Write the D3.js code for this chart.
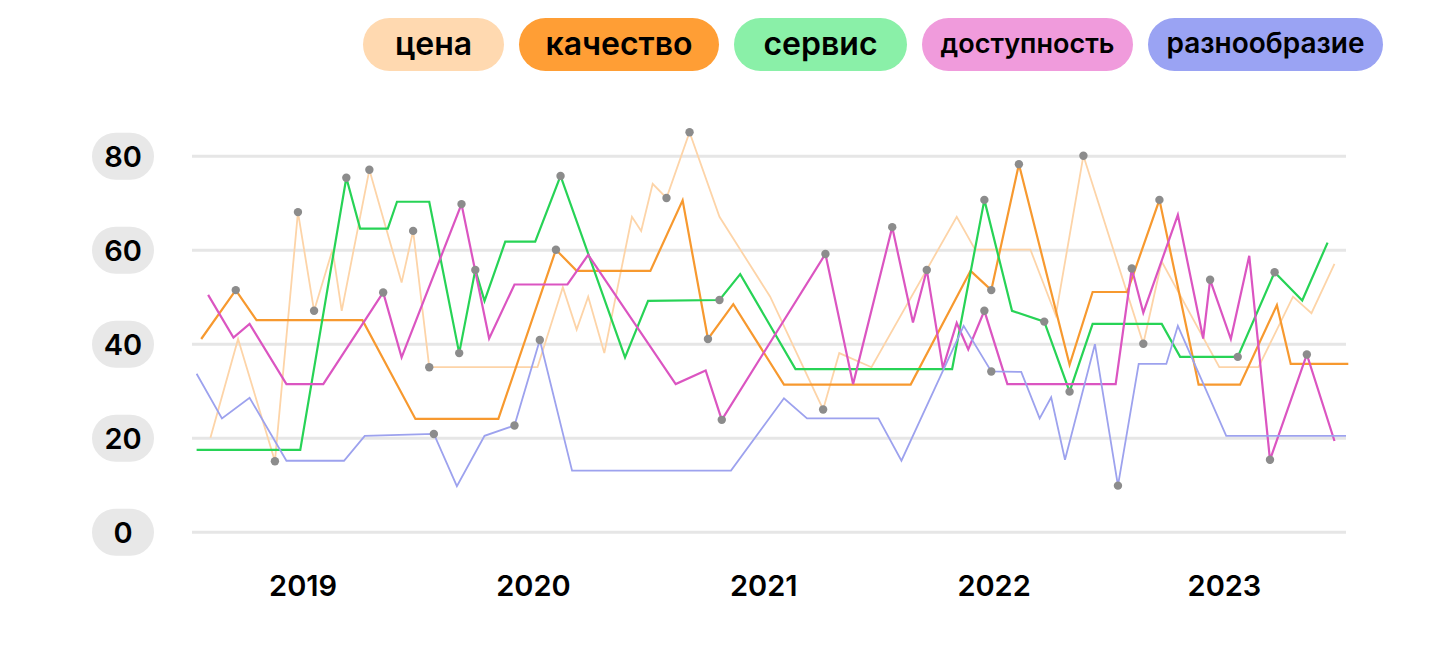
<!DOCTYPE html>
<html>
<head>
<meta charset="utf-8">
<script src="https://cdn.jsdelivr.net/npm/d3@7"></script>
<style>
  html, body { margin: 0; padding: 0; background: #fff; }
  svg { display: block; font-family: Inter, "Noto Sans", sans-serif; }
</style>
</head>
<body>
<div id="chart"></div>
<script>
// series names as in legend
const seriesNames = ['цена', 'качество', 'сервис', 'доступность', 'разнообразие'];
const years = [2019, 2020, 2021, 2022, 2023];
const yTicks = [0, 20, 40, 60, 80];

// [decimal year, value, marked]
const cena = [
  [2018.60, 20], [2018.72, 41], [2018.88, 15, 1], [2018.98, 68, 1], [2019.05, 47, 1],
  [2019.13, 60], [2019.17, 47], [2019.29, 77, 1], [2019.43, 53], [2019.48, 64, 1],
  [2019.55, 35, 1], [2020.02, 35], [2020.13, 52], [2020.19, 43], [2020.24, 50],
  [2020.31, 38], [2020.43, 67], [2020.47, 64], [2020.52, 74], [2020.58, 71, 1],
  [2020.68, 85, 1], [2020.81, 67], [2021.03, 50], [2021.26, 26, 1], [2021.33, 38],
  [2021.47, 35], [2021.84, 67], [2021.92, 60], [2022.16, 60], [2022.27, 46],
  [2022.39, 80, 1], [2022.65, 40, 1], [2022.73, 57.5], [2022.98, 35], [2023.15, 35],
  [2023.30, 50], [2023.38, 46.5], [2023.48, 57]
];
const kachestvo = [
  [2018.56, 41], [2018.71, 51.4, 1], [2018.80, 45], [2019.26, 45], [2019.49, 24],
  [2019.85, 24], [2020.10, 60, 1], [2020.19, 55.5], [2020.51, 55.5], [2020.65, 70.5],
  [2020.76, 41, 1], [2020.87, 48.4], [2021.09, 31.3], [2021.64, 31.3], [2021.90, 55.5],
  [2021.99, 51.4, 1], [2022.11, 78.2, 1], [2022.33, 35.5], [2022.43, 51], [2022.58, 51],
  [2022.72, 70.6, 1], [2022.89, 31.3], [2023.07, 31.3], [2023.23, 48.2], [2023.29, 35.7],
  [2023.54, 35.7]
];
const servis = [
  [2018.54, 17.4], [2018.99, 17.4], [2019.19, 75.3, 1], [2019.25, 64.5], [2019.37, 64.5],
  [2019.41, 70.2], [2019.55, 70.2], [2019.68, 38, 1], [2019.75, 55.7, 1], [2019.79, 49.1],
  [2019.88, 61.7], [2020.01, 61.7], [2020.12, 75.7, 1], [2020.40, 37.1], [2020.50, 49.1],
  [2020.81, 49.3, 1], [2020.90, 54.8], [2021.14, 34.6], [2021.82, 34.6], [2021.96, 70.6, 1],
  [2022.08, 47], [2022.22, 44.7, 1], [2022.33, 29.8, 1], [2022.43, 44.2], [2022.73, 44.2],
  [2022.81, 37.2], [2023.06, 37.2, 1], [2023.22, 55.2, 1], [2023.34, 49.2], [2023.45, 61.5]
];
const dostupnost = [
  [2018.59, 50.4], [2018.70, 41.3], [2018.77, 44.2], [2018.93, 31.4], [2019.09, 31.4],
  [2019.35, 50.9, 1], [2019.43, 37.1], [2019.69, 69.7, 1], [2019.81, 41.1], [2019.92, 52.6],
  [2020.15, 52.6], [2020.24, 58.9], [2020.62, 31.4], [2020.75, 34.3], [2020.82, 23.8, 1],
  [2021.27, 59.1, 1], [2021.39, 31.4], [2021.56, 64.8, 1], [2021.65, 44.5], [2021.71, 55.7, 1],
  [2021.78, 34.8], [2021.84, 44.4], [2021.89, 38.8], [2021.96, 47, 1], [2022.06, 31.4],
  [2022.53, 31.4], [2022.60, 56, 1], [2022.65, 46.6], [2022.80, 67.4], [2022.91, 41.1],
  [2022.94, 53.6, 1], [2023.03, 41], [2023.11, 58.7], [2023.20, 15.3, 1], [2023.36, 37.7, 1],
  [2023.48, 19.3]
];
const raznoobrazie = [
  [2018.54, 33.6], [2018.65, 24.1], [2018.77, 28.5], [2018.93, 15.1], [2019.18, 15.1],
  [2019.27, 20.4], [2019.57, 20.8, 1], [2019.67, 9.7], [2019.79, 20.4], [2019.92, 22.6, 1],
  [2020.03, 40.8, 1], [2020.17, 13], [2020.86, 13], [2021.09, 28.4], [2021.19, 24.1],
  [2021.50, 24.1], [2021.60, 15.1], [2021.87, 43.8], [2021.99, 34.1, 1], [2022.12, 34],
  [2022.20, 24.1], [2022.25, 28.6], [2022.31, 15.3], [2022.44, 39.9], [2022.54, 9.8, 1],
  [2022.63, 35.7], [2022.75, 35.7], [2022.80, 43.8], [2023.01, 20.4], [2023.53, 20.4]
];

const allSeries = [cena, kachestvo, servis, dostupnost, raznoobrazie];
const pillColors = ['#FFD9B0', '#FF9E35', '#8AF0A8', '#F09BDC', '#9AA3F3'];
const lineColors = ['#FDD4A8', '#F7992F', '#27D356', '#DB55C1', '#9DA2EE'];

const width = 1440, height = 652;
const svg = d3.select('#chart').append('svg')
    .attr('width', width)
    .attr('height', height);

const x = d3.scaleLinear().domain([2018.52, 2023.53]).range([192, 1346]);
const y = d3.scaleLinear().domain([0, 80]).range([531.7, 155.7]);

// gridlines
const grid = svg.append('g')
    .attr('transform', 'translate(192,0)')
    .call(d3.axisLeft(y).tickValues(yTicks).tickSize(-1154).tickFormat(''));
grid.select('.domain').remove();
grid.selectAll('line').attr('stroke', '#E6E6E6').attr('stroke-width', 3);

// y labels in grey pills
const yAxis = svg.append('g')
    .attr('transform', 'translate(123,0)')
    .call(d3.axisLeft(y).tickValues(yTicks).tickSize(0).tickPadding(0));
yAxis.select('.domain').remove();
yAxis.selectAll('.tick').insert('rect', 'text')
    .attr('x', -31).attr('y', -23.5)
    .attr('width', 62).attr('height', 47)
    .attr('rx', 23.5)
    .attr('fill', '#E8E8E8');
yAxis.selectAll('text')
    .attr('x', 0).attr('dy', '0.36em')
    .attr('text-anchor', 'middle')
    .attr('fill', '#000')
    .style('font-size', '29px')
    .style('font-weight', 600)
    .style('font-family', 'Inter, sans-serif');

// x labels
const xAxis = svg.append('g')
    .attr('transform', 'translate(0,575)')
    .call(d3.axisBottom(x).tickValues(years).tickFormat(d3.format('d')).tickSize(0).tickPadding(0));
xAxis.select('.domain').remove();
xAxis.selectAll('text')
    .attr('fill', '#000')
    .style('font-size', '29px')
    .style('font-weight', 600)
    .style('font-family', 'Inter, sans-serif');

// lines
const line = d3.line().x(d => x(d[0])).y(d => y(d[1]));
svg.append('g').selectAll('path')
    .data(allSeries)
    .join('path')
    .attr('d', line)
    .attr('fill', 'none')
    .attr('stroke', (d, i) => lineColors[i])
    .attr('stroke-width', (d, i) => i === 0 || i === 4 ? 1.8 : 2.2);

// grey markers
const marked = allSeries.flatMap(s => s.filter(p => p[2]));
svg.append('g').selectAll('circle')
    .data(marked)
    .join('circle')
    .attr('cx', d => x(d[0]))
    .attr('cy', d => y(d[1]))
    .attr('r', 4.2)
    .attr('fill', '#8C8C8C');

// legend pills
const pillW = [141, 200, 173, 211, 235];
const pillSize = [32, 32, 32, 27, 28];
let lx = 363;
const legend = svg.append('g');
seriesNames.forEach((name, i) => {
  const g = legend.append('g').attr('transform', `translate(${lx},18)`);
  g.append('rect')
      .attr('width', pillW[i]).attr('height', 53)
      .attr('rx', 26.5)
      .attr('fill', pillColors[i]);
  g.append('text')
      .attr('x', pillW[i] / 2).attr('y', 26.5)
      .attr('dy', '0.32em')
      .attr('text-anchor', 'middle')
      .style('font-size', pillSize[i] + 'px')
      .style('font-weight', 600)
      .text(name);
  lx += pillW[i] + 15;
});
</script>
</body>
</html>
